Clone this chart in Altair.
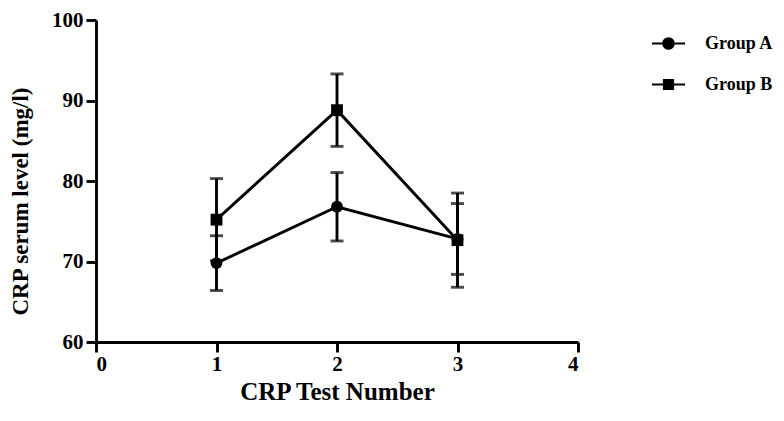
import altair as alt
import pandas as pd

groups = ["Group A", "Group B"]
test_numbers = [1, 2, 3]
means_a = [69.8, 76.8, 72.8]
sems_a = [3.4, 4.25, 4.4]
means_b = [75.2, 88.8, 72.65]
sems_b = [5.1, 4.5, 5.85]

rows = []
for g, means, sems in [("Group A", means_a, sems_a), ("Group B", means_b, sems_b)]:
    for t, m, s in zip(test_numbers, means, sems):
        rows.append({"test": t, "value": m, "lo": m - s, "hi": m + s, "group": g})
df = pd.DataFrame(rows)

FONT = "Liberation Serif"
SW = 2.9

axis_common = dict(
    domainColor="black", domainWidth=SW, tickColor="black", tickWidth=SW, tickSize=10,
    grid=False, labelFont=FONT, labelFontSize=21, labelFontWeight="bold", labelColor="black",
    titleFont=FONT, titleFontWeight="bold", titleColor="black",
)

x = alt.X("test:Q", scale=alt.Scale(domain=[0, 4], nice=False),
          axis=alt.Axis(title="CRP Test Number", values=[0, 1, 2, 3, 4], format="d",
                        labelPadding=1, titleFontSize=25, titlePadding=5, **axis_common))
y = alt.Y("value:Q", scale=alt.Scale(domain=[60, 100], nice=False, zero=False),
          axis=alt.Axis(title="CRP serum level (mg/l)", values=[60, 70, 80, 90, 100],
                        labelPadding=3, titleFontSize=23, titlePadding=19, titleY=181,
                        **axis_common))

base = alt.Chart(df)

lines = base.mark_line(color="black", strokeWidth=SW).encode(
    x=x, y=y, detail="group:N")

bars = base.mark_rule(color="black", strokeWidth=SW).encode(
    x="test:Q", y="lo:Q", y2="hi:Q")

caps_hi = base.mark_tick(color="black", thickness=SW, size=13, orient="horizontal").encode(
    x="test:Q", y="hi:Q")
caps_lo = base.mark_tick(color="black", thickness=SW, size=13, orient="horizontal").encode(
    x="test:Q", y="lo:Q")

points = base.mark_point(filled=True, opacity=1, color="black").encode(
    x="test:Q", y="value:Q",
    shape=alt.Shape("group:N", scale=alt.Scale(domain=groups, range=["circle", "square"]), legend=None),
    size=alt.Size("group:N", scale=alt.Scale(domain=groups, range=[140, 140]), legend=None),
)

path_a = ("M-1,-0.055H-0.38V0.055H-1Z M0.38,-0.055H1V0.055H0.38Z "
          "M0.38,0A0.38,0.38,0,1,1,-0.38,0A0.38,0.38,0,1,1,0.38,0Z")
path_b = ("M-1,-0.055H-0.34V0.055H-1Z M0.34,-0.055H1V0.055H0.34Z "
          "M-0.34,-0.34H0.34V0.34H-0.34Z")

legend_layer = base.transform_calculate(lg="datum.group").mark_point(
    opacity=0, filled=True, size=1089, color="black").encode(
    x="test:Q", y="value:Q",
    shape=alt.Shape("lg:N", scale=alt.Scale(domain=groups, range=[path_a, path_b]),
                    legend=alt.Legend(title=None, orient="none", legendX=556, legendY=7,
                                      symbolOpacity=1, symbolFillColor="black",
                                      symbolStrokeColor="black", symbolStrokeWidth=0,
                                      symbolSize=1089, labelFont=FONT, labelFontSize=18,
                                      labelFontWeight="bold", labelColor="black",
                                      labelOffset=20, rowPadding=15)),
)

chart = alt.layer(lines, bars, caps_hi, caps_lo, points, legend_layer).resolve_scale(
    shape="independent", size="independent"
).properties(
    width=482, height=322,
    autosize=alt.AutoSizeParams(type="none"),
    padding={"left": 88, "top": 12, "right": 196, "bottom": 68},
).configure_view(stroke=None)

chart.save("out.html", embed_options={"renderer": "svg", "actions": False})
